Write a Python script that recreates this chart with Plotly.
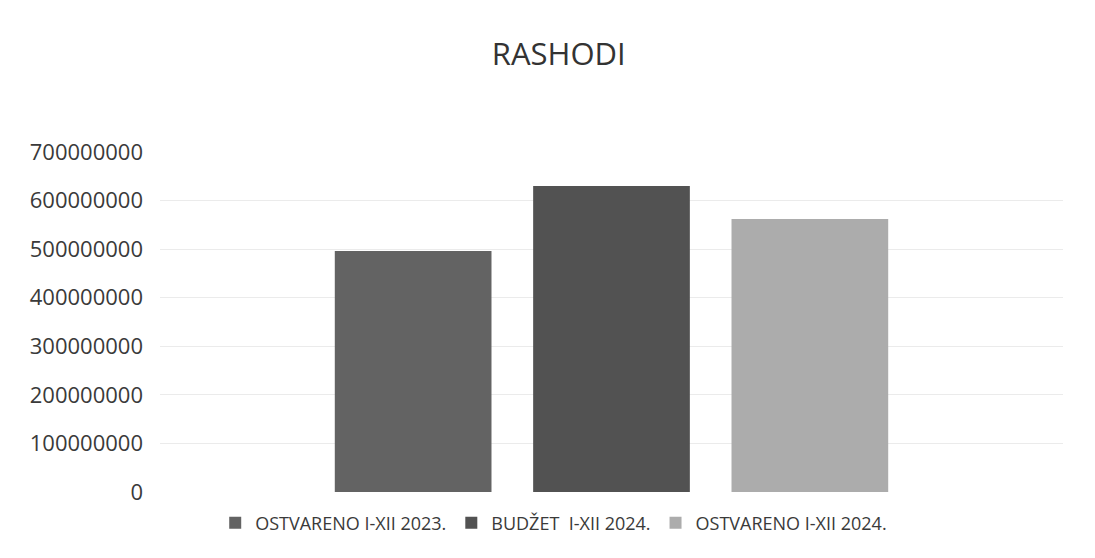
import plotly.graph_objects as go

categories = [""]
series_names = ["OSTVARENO I-XII 2023.", "BUDŽET  I-XII 2024.", "OSTVARENO I-XII 2024."]
values_2023 = [496000000]
budget_2024 = [630000000]
values_2024 = [562000000]
colors = ["#636363", "#525252", "#acacac"]
tick_vals = [0, 100000000, 200000000, 300000000, 400000000, 500000000, 600000000, 700000000]
tick_text = ["0", "100000000", "200000000", "300000000", "400000000", "500000000", "600000000", "700000000"]

fig = go.Figure()
for name, vals, col in zip(series_names, [values_2023, budget_2024, values_2024], colors):
    fig.add_trace(go.Bar(x=categories, y=vals, name=name, marker=dict(color=col, line=dict(width=0))))

fig.update_layout(
    width=1095, height=558,
    paper_bgcolor="white", plot_bgcolor="white",
    barmode="group", bargap=0.341, bargroupgap=0.21,
    title=dict(text="RASHODI", x=0.503, xanchor="center", y=0.9176, yanchor="middle",
               font=dict(family="Open Sans", size=31, color="#333333")),
    margin=dict(l=152, r=40, t=144, b=74),
    font=dict(family="Open Sans", color="#3a3a3a"),
    xaxis=dict(showticklabels=False, showgrid=False, zeroline=False, showline=False),
    yaxis=dict(range=[0, 700000000], tickvals=tick_vals, ticktext=tick_text,
               showgrid=True, gridcolor="#ebebeb", gridwidth=1, zeroline=False, showline=False,
               tickfont=dict(size=22, color="#3a3a3a"), ticks="", ticklabelstandoff=16),
    legend=dict(orientation="h", x=0.436, xanchor="center", y=-0.091, yanchor="middle",
                font=dict(size=18, color="#3a3a3a"), itemwidth=30, traceorder="normal"),
)

fig.write_html("out.html")
